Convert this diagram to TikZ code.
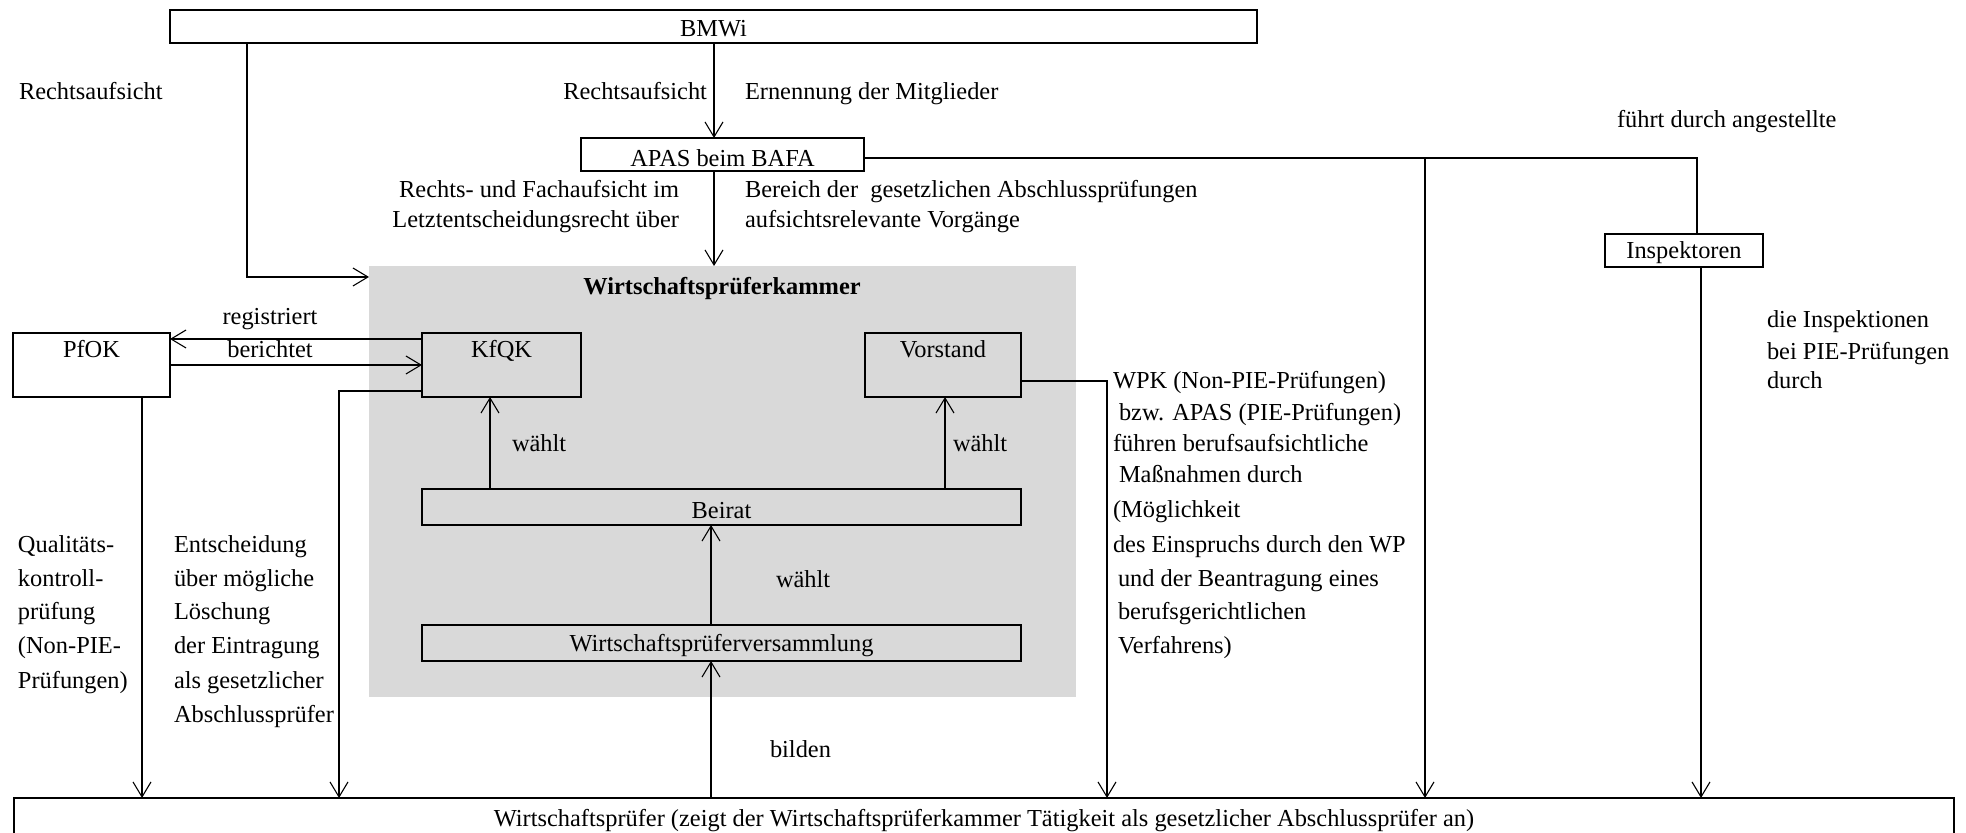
\documentclass[tikz,border=0pt]{standalone}
\usepackage{fontspec}
\setmainfont{Liberation Serif}
\usetikzlibrary{arrows.meta}
\definecolor{kammergray}{RGB}{217,217,217}
\begin{document}
\begin{tikzpicture}[x=0.5pt,y=-0.5pt,
  every node/.style={font=\fontsize{12.2}{14}\selectfont, inner sep=0pt, outer sep=0pt},
  box/.style={draw, line width=1pt, anchor=north west, inner sep=0pt},
  lbl/.style={anchor=base west},
  lblr/.style={anchor=base east},
  lblc/.style={anchor=base},
  conn/.style={line width=0.55pt},
  arr/.style={conn, -{Straight Barb[length=7.5pt,width=9pt]}}
]
\useasboundingbox (0,0) rectangle (1966,833);

% grey Wirtschaftsprüferkammer area
\node[fill=kammergray, anchor=north west, minimum width=353.5pt, minimum height=215.5pt] (wpk) at (369,266) {};
\node[lblc, font=\fontsize{12.2}{14}\selectfont\bfseries] (wpktitle) at (722,295) {Wirtschaftsprüferkammer};

% boxes
\node[box, minimum width=543.5pt, text height=13.5pt, text depth=3pt] (bmwi) at (170,10) {BMWi};
\node[box, minimum width=141.5pt, text height=14.5pt, text depth=2pt] (apas) at (581,138) {APAS beim BAFA};
\node[box, minimum width=79pt, text height=12.5pt, text depth=4pt] (insp) at (1605,234) {Inspektoren};
\node[box, minimum width=78.5pt, text height=12.5pt, text depth=19.5pt] (pfok) at (13,333) {PfOK};
\node[box, minimum width=79.5pt, text height=12.5pt, text depth=19.5pt] (kfqk) at (422,333) {KfQK};
\node[box, minimum width=78pt, text height=12.5pt, text depth=19.5pt] (vorstand) at (865,333) {Vorstand};
\node[box, minimum width=299.5pt, text height=15pt, text depth=3pt] (beirat) at (422,489) {Beirat};
\node[box, minimum width=299.5pt, text height=13.5pt, text depth=4.5pt] (wpv) at (422,625) {Wirtschaftsprüferversammlung};
\node[box, minimum width=970pt, text height=14.5pt, text depth=4.5pt] (wp) at (14,798) {Wirtschaftsprüfer (zeigt der Wirtschaftsprüferkammer Tätigkeit als gesetzlicher Abschlussprüfer an)};

% helper coordinates
\coordinate (cL) at (247,277);
\coordinate (xA) at (714,0);
\coordinate (yR) at (0,158);
\coordinate (xI) at (1697,0);
\coordinate (xI2) at (1701,0);
\coordinate (xB) at (1425,0);
\coordinate (yReg) at (0,339);
\coordinate (yBer) at (0,365);
\coordinate (xP) at (142,0);
\coordinate (cK) at (339,391);
\coordinate (cV) at (1107,381);
\coordinate (xK) at (490,0);
\coordinate (xV) at (945,0);
\coordinate (xW) at (711,0);

% connectors
\draw[arr] (bmwi.south -| cL) |- (wpk.west |- cL);
\draw[arr] (bmwi.south -| xA) -- (apas.north -| xA);
\draw[arr] (apas.south -| xA) -- (wpk.north -| xA);
\draw[conn] (apas.east |- yR) -- (xI |- yR) -- (insp.north -| xI);
\draw[arr] (xB |- yR) -- (wp.north -| xB);
\draw[arr] (insp.south -| xI2) -- (wp.north -| xI2);
\draw[arr] (kfqk.west |- yReg) -- (pfok.east |- yReg);
\draw[arr] (pfok.east |- yBer) -- (kfqk.west |- yBer);
\draw[arr] (pfok.south -| xP) -- (wp.north -| xP);
\draw[arr] (kfqk.west |- cK) -| (wp.north -| cK);
\draw[arr] (vorstand.east |- cV) -| (wp.north -| cV);
\draw[arr] (beirat.north -| xK) -- (kfqk.south -| xK);
\draw[arr] (beirat.north -| xV) -- (vorstand.south -| xV);
\draw[arr] (wpv.north -| xW) -- (beirat.south -| xW);
\draw[arr] (wp.north -| xW) -- (wpv.south -| xW);

% labels
\node[lbl] (t1) at (19,100) {Rechtsaufsicht};
\node[lblr] (t2) at (707,100) {Rechtsaufsicht};
\node[lbl] (t3) at (745,100) {Ernennung der Mitglieder};
\node[lblr] (t4) at (679,198) {Rechts- und Fachaufsicht im};
\node[lblr] (t5) at (679,228) {Letztentscheidungsrecht über};
\node[lbl] (t6) at (745,198) {Bereich der\ \ gesetzlichen Abschlussprüfungen};
\node[lbl] (t7) at (745,228) {aufsichtsrelevante Vorgänge};
\node[lbl] (t8) at (1617,128) {führt durch angestellte};
\node[lbl] (t9) at (1767,328) {die Inspektionen};
\node[lbl] (t10) at (1767,360) {bei PIE-Prüfungen};
\node[lbl] (t11) at (1767,389) {durch};
\node[lblc] (t12) at (270,325) {registriert};
\node[lblc] (t13) at (270,358) {berichtet};
\node[lbl] (t14) at (512,452) {wählt};
\node[lbl] (t15) at (953,452) {wählt};
\node[lbl] (t16) at (776,588) {wählt};
\node[lbl] (t17) at (770,758) {bilden};

% left columns
\node[lbl] (q1) at (18,553) {Qualitäts-};
\node[lbl] (q2) at (18,587) {kontroll-};
\node[lbl] (q3) at (18,620) {prüfung};
\node[lbl] (q4) at (18,654) {(Non-PIE-};
\node[lbl] (q5) at (18,689) {Prüfungen)};
\node[lbl] (e1) at (174,553) {Entscheidung};
\node[lbl] (e2) at (174,587) {über mögliche};
\node[lbl] (e3) at (174,620) {Löschung};
\node[lbl] (e4) at (174,654) {der Eintragung};
\node[lbl] (e5) at (174,689) {als gesetzlicher};
\node[lbl] (e6) at (174,723) {Abschlussprüfer};

% right column
\node[lbl] (r1) at (1113,389) {WPK (Non-PIE-Prüfungen)};
\node[lbl] (r2) at (1119,421) {bzw. APAS (PIE-Prüfungen)};
\node[lbl] (r3) at (1113,452) {führen berufsaufsichtliche};
\node[lbl] (r4) at (1119,483) {Maßnahmen durch};
\node[lbl] (r5) at (1113,518) {(Möglichkeit};
\node[lbl] (r6) at (1113,553) {des Einspruchs durch den WP};
\node[lbl] (r7) at (1118,587) {und der Beantragung eines};
\node[lbl] (r8) at (1118,620) {berufsgerichtlichen};
\node[lbl] (r9) at (1118,654) {Verfahrens)};
\end{tikzpicture}
\end{document}
